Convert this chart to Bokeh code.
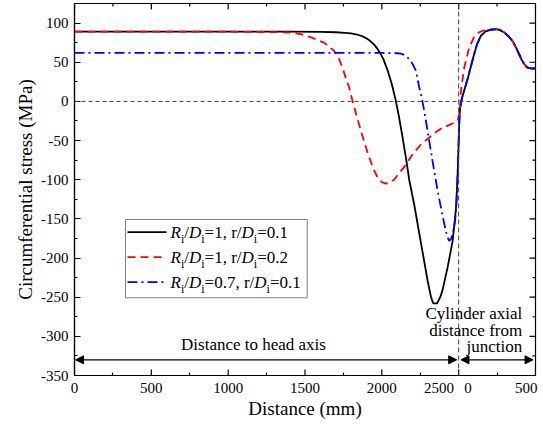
from bokeh.plotting import figure
from bokeh.models import (Range1d, FixedTicker, Span, Arrow,
                          NormalHead, Label, ColumnDataSource)
from bokeh.core.properties import value
from bokeh.embed import file_html
from bokeh.resources import INLINE

# ---------------- data ----------------
# x: distance along the combined axis (0-2500 head, then 2500+ cylinder distance)
black_x = [0, 500, 1000, 1400, 1600, 1700, 1760, 1800, 1840, 1870, 1900, 1925, 1950,
           1972, 1990, 2010, 2037, 2065, 2091, 2110, 2135, 2160, 2178, 2210, 2254,
           2298, 2320, 2335, 2360, 2380, 2395, 2428, 2461, 2482, 2492, 2497, 2503,
           2508, 2520, 2536, 2560, 2580, 2600, 2620, 2645, 2675, 2710, 2743, 2770,
           2797, 2825, 2851, 2875, 2894, 2910, 2927, 2945, 2960, 2980, 3000]
black_y = [89, 89, 89, 89, 88.8, 88.3, 87.6, 86.8, 85.3, 83.5, 80.5, 77, 72.5,
           67, 61.5, 54, 40, 22, 1, -18, -46, -76, -100, -131, -180,
           -229, -250, -258, -258, -250, -241, -212, -178, -138, -100, -71, -30,
           -10, 3, 14, 30, 45, 60, 73, 84, 89.5, 91.5, 92.3, 91,
           88, 83, 77, 68, 60, 53, 47.7, 43.5, 42.5, 42, 42]

red_x = [0, 500, 1000, 1300, 1400, 1472, 1550, 1624, 1689, 1720, 1744, 1765, 1787,
         1820, 1863, 1890, 1917, 1945, 1972, 2000, 2026, 2050, 2080, 2110, 2145,
         2175, 2210, 2250, 2298, 2340, 2384, 2440, 2493, 2503, 2510, 2514, 2536,
         2569, 2600, 2630, 2660, 2700, 2743, 2770, 2797, 2825, 2851, 2875, 2894,
         2910, 2927, 2945, 2960, 2980, 3000]
red_y = [89, 89, 89, 88.5, 88, 86, 81, 75, 64.7, 55, 43, 30, 18,
         -7.6, -37, -55, -71, -86, -97, -103, -105, -104, -100, -92, -84,
         -75, -65, -56, -48, -41, -35, -30, -25, -17, -8, 12, 43,
         69, 82, 88, 90.5, 91.5, 92.3, 91, 88, 83, 77, 68, 60,
         53, 47.7, 43.5, 42.5, 42, 42]

blue_x = [0, 500, 1000, 1500, 2000, 2100, 2124, 2150, 2178, 2200, 2222, 2243, 2254,
          2276, 2298, 2319, 2340, 2363, 2385, 2406, 2425, 2438, 2450, 2461, 2475,
          2485, 2492, 2497, 2503, 2508, 2520, 2536, 2560, 2580, 2600, 2620, 2645,
          2675, 2710, 2743, 2770, 2797, 2825, 2851, 2875, 2894, 2910, 2927, 2945,
          2960, 2980, 3000]
blue_y = [62, 62, 62, 62, 62, 61.5, 61, 59, 54, 48, 39, 18, 10,
          -12, -38, -63, -88, -114, -136, -156, -172, -178, -176, -169, -155,
          -135, -100, -71, -30, -10, 3, 14, 30, 45, 60, 73, 84,
          89.5, 91.5, 92.3, 91, 88, 83, 77, 68, 60, 53, 47.7, 43.5,
          42.5, 42, 42]

x_ticks = [0, 500, 1000, 1500, 2000, 2500, 3000]
x_minor = [250, 750, 1250, 1750, 2250, 2750]
# label positions on the x axis: the junction tick carries "2500" (head) and "0" (cylinder)
x_label_pos = [0, 500, 1000, 1500, 2000, 2372, 2561, 2940]
x_label_txt = ["0", "500", "1000", "1500", "2000", "2500", "0", "500"]
y_ticks = [-350, -300, -250, -200, -150, -100, -50, 0, 50, 100]
y_tick_txt = ["-350", "-300", "-250", "-200", "-150", "-100", "-50", "0", "50", "100"]
y_minor = [-325, -275, -225, -175, -125, -75, -25, 25, 75, 125]

legend_rows = [
    [("R", "it"), ("i", "sub"), ("/", "reg"), ("D", "it"), ("i", "sub"),
     ("=1, r/", "reg"), ("D", "it"), ("i", "sub"), ("=0.1", "reg")],
    [("R", "it"), ("i", "sub"), ("/", "reg"), ("D", "it"), ("i", "sub"),
     ("=1, r/", "reg"), ("D", "it"), ("i", "sub"), ("=0.2", "reg")],
    [("R", "it"), ("i", "sub"), ("/", "reg"), ("D", "it"), ("i", "sub"),
     ("=0.7, r/", "reg"), ("D", "it"), ("i", "sub"), ("=0.1", "reg")],
]

junction_x = 2500
head_arrow = (7, 2487)
cyl_arrow = (2515, 2984)
arrow_y = -330

FONT = "Liberation Serif"

# ---------------- figure ----------------
X0, X1 = 0, 3000
Y0, Y1 = -350, 125
FW, FH = 461, 372
FL, FT = 74, 3  # frame left / top in page pixels


def px2x(px):
    return X0 + (px - FL) * (X1 - X0) / FW


def py2y(py):
    return Y1 - (py - FT) * (Y1 - Y0) / FH


DX = (X1 - X0) / FW   # data units per pixel
DY = (Y1 - Y0) / FH

p = figure(frame_width=FW, frame_height=FH,
           x_range=Range1d(X0, X1), y_range=Range1d(Y0, Y1),
           output_backend="svg", toolbar_location=None,
           min_border_left=FL, min_border_right=8, min_border_top=FT,
           min_border_bottom=50,
           background_fill_color="white", border_fill_color="white")
p.outline_line_color = "black"
p.outline_line_width = 1.2
p.xgrid.visible = False
p.ygrid.visible = False

xa = p.xaxis[0]
xa.ticker = FixedTicker(ticks=x_label_pos, minor_ticks=x_minor)
xa.major_label_overrides = {k: v for k, v in zip(x_label_pos, x_label_txt)}
xa.major_tick_in = 0
xa.major_tick_out = 0
xa.minor_tick_in = 3
xa.minor_tick_out = 0
xa.minor_tick_line_width = 1.2
xa.axis_line_width = 1.2
xa.axis_line_color = "black"
xa.major_label_text_font = FONT
xa.major_label_text_font_size = "15px"
xa.major_label_text_color = "black"
xa.major_label_standoff = 7
xa.axis_label = "Distance (mm)"
xa.axis_label_text_font = FONT
xa.axis_label_text_font_size = "19px"
xa.axis_label_text_font_style = "normal"
xa.axis_label_text_color = "black"
xa.axis_label_standoff = 2

ya = p.yaxis[0]
ya.ticker = FixedTicker(ticks=y_ticks, minor_ticks=y_minor)
ya.major_label_overrides = {k: v for k, v in zip(y_ticks, y_tick_txt)}
ya.major_tick_in = 6
ya.major_tick_out = 0
ya.minor_tick_in = 3
ya.minor_tick_out = 0
ya.major_tick_line_width = 1.2
ya.minor_tick_line_width = 1.2
ya.axis_line_width = 1.2
ya.axis_line_color = "black"
ya.major_label_text_font = FONT
ya.major_label_text_font_size = "15px"
ya.major_label_text_color = "black"
ya.major_label_standoff = 6
ya.axis_label = "Circumferential stress (MPa)"
ya.axis_label_text_font = FONT
ya.axis_label_text_font_size = "19px"
ya.axis_label_text_font_style = "normal"
ya.axis_label_text_color = "black"
ya.axis_label_standoff = 2

# inward tick marks on bottom (majors), top and right sides
MAJ, MIN = 6, 3
p.segment(x0=x_ticks, y0=[Y0] * len(x_ticks), x1=x_ticks,
          y1=[Y0 + MAJ * DY] * len(x_ticks), line_color="black", line_width=1.2)
p.segment(x0=x_ticks, y0=[Y1] * len(x_ticks), x1=x_ticks,
          y1=[Y1 - MAJ * DY] * len(x_ticks), line_color="black", line_width=1.2)
p.segment(x0=x_minor, y0=[Y1] * len(x_minor), x1=x_minor,
          y1=[Y1 - MIN * DY] * len(x_minor), line_color="black", line_width=1.2)
p.segment(x0=[X1] * len(y_ticks), y0=y_ticks, x1=[X1 - MAJ * DX] * len(y_ticks),
          y1=y_ticks, line_color="black", line_width=1.2)
p.segment(x0=[X1] * len(y_minor), y0=y_minor, x1=[X1 - MIN * DX] * len(y_minor),
          y1=y_minor, line_color="black", line_width=1.2)

# reference lines
p.add_layout(Span(location=0, dimension="width", line_color="#404040",
                  line_dash="4 3", line_width=1))
p.add_layout(Span(location=junction_x, dimension="height", line_color="#404040",
                  line_dash="5 3", line_width=1))

# curves
p.line(black_x, black_y, line_color="black", line_width=1.8)
p.line(red_x, red_y, line_color="red", line_width=1.8, line_dash="8 5")
p.line(blue_x, blue_y, line_color="blue", line_width=1.8, line_dash="10 4 2 4")

# ---------------- legend (manual, for italic + subscript labels) ----------------
p.quad(left=px2x(125), right=px2x(306.7), top=py2y(219), bottom=py2y(297.3),
       fill_color="white", line_color="#808080", line_width=1)
row_py = [231.7, 256.7, 281.7]
styles = [dict(line_color="black"),
          dict(line_color="red", line_dash="8 5"),
          dict(line_color="blue", line_dash="10 4 2 4")]
for py, st in zip(row_py, styles):
    p.line([px2x(127), px2x(166)], [py2y(py), py2y(py)], line_width=1.8, **st)

W_REG = {"R": .667, "D": .722, "i": .278, "/": .278, "=": .564, ",": .25, " ": .25,
         "r": .333, ".": .25}
W_IT = {"R": .611, "D": .722}
MAIN, SUB = 17, 12
segs = {"it": dict(x=[], y=[], t=[], o=[]), "reg": dict(x=[], y=[], t=[], o=[]),
        "sub": dict(x=[], y=[], t=[], o=[])}
for py, row in zip(row_py, legend_rows):
    off = 0.0
    for txt, kind in row:
        d = segs[kind]
        d["x"].append(px2x(170))
        d["y"].append(py2y(py))
        d["t"].append(txt)
        d["o"].append(off)
        if kind == "it":
            off += sum(W_IT.get(c, .5) for c in txt) * MAIN
        elif kind == "sub":
            off += sum(W_REG.get(c, .5) for c in txt) * SUB
        else:
            off += sum(W_REG.get(c, .5) for c in txt) * MAIN

for kind, d in segs.items():
    src = ColumnDataSource(dict(x=d["x"], y=d["y"], text=d["t"], xo=d["o"]))
    p.text(x="x", y="y", text="text", x_offset="xo",
           y_offset=7 if kind == "sub" else 0,
           source=src, text_font=value(FONT),
           text_font_size=f"{SUB if kind == 'sub' else MAIN}px",
           text_font_style="italic" if kind == "it" else "normal",
           text_baseline="middle", text_align="left", text_color="black")

# ---------------- arrows & annotations ----------------
for (xs, xe) in (head_arrow, cyl_arrow):
    p.add_layout(Arrow(start=NormalHead(size=8, fill_color="black", line_color="black"),
                       end=NormalHead(size=8, fill_color="black", line_color="black"),
                       x_start=xs, y_start=arrow_y, x_end=xe, y_end=arrow_y,
                       line_color="black", line_width=1.4))

p.add_layout(Label(x=px2x(253), y=py2y(344), text="Distance to head axis",
                   text_font=FONT, text_font_size="17px", text_align="center",
                   text_baseline="middle", text_color="black"))
for txt, py in zip(["Cylinder axial", "distance from", "junction"], [312.5, 330, 346]):
    p.add_layout(Label(x=px2x(521.7), y=py2y(py), text=txt, text_font=FONT,
                       text_font_size="17px", text_align="right",
                       text_baseline="middle", text_color="black"))

open("out.html", "w").write(file_html(p, INLINE))
